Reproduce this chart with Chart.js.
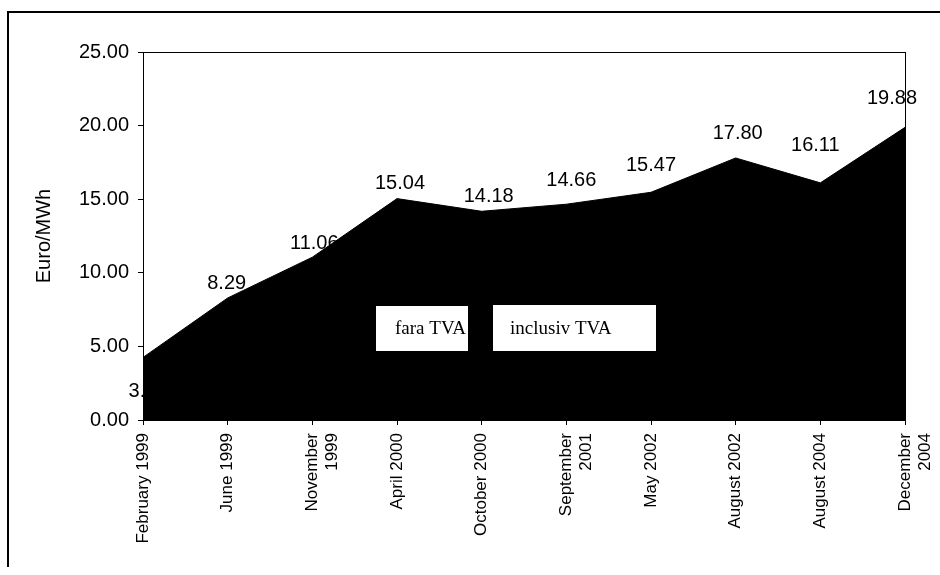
<!DOCTYPE html>
<html>
<head>
<meta charset="utf-8">
<script src="https://cdn.jsdelivr.net/npm/chart.js@4.4.0/dist/chart.umd.min.js"></script>
<style>
  body { margin: 0; background: #fff; }
  #wrap { width: 940px; height: 575px; }
</style>
</head>
<body>
<div id="wrap"><canvas id="PriceChart" width="940" height="575"></canvas></div>
<script>
// data
const months = [
  'February 1999', 'June 1999', ['November', '1999'], 'April 2000', 'October 2000',
  ['September', '2001'], 'May 2002', 'August 2002', 'August 2004', ['December', '2004']
];
const prices = [4.25, 8.29, 11.06, 15.04, 14.18, 14.66, 15.47, 17.80, 16.11, 19.88];
const priceLabels = ['3.58', '8.29', '11.06', '15.04', '14.18', '14.66', '15.47', '17.80', '16.11', '19.88'];
const seriesNames = ['fara TVA', 'inclusiv TVA'];
const yTicks = [0, 5, 10, 15, 20, 25];

// label nudges (px) so the numbers sit where the original has them
const nudgeX = [5, -1, 2, 3, 7, 5, 0, 2, -5, -13];
const nudgeY = [34, -14, -14, -15, -15, -24, -27, -24, -37, -29];

// values drawn under the area, so the area hides parts of them
const valueLabels = {
  id: 'valueLabels',
  beforeDatasetsDraw(chart) {
    const ctx = chart.ctx
    const meta = chart.getDatasetMeta(0)
    ctx.save()
    ctx.font = '20px "Liberation Sans", Arial, sans-serif'
    ctx.fillStyle = '#000'
    ctx.textAlign = 'center'
    ctx.textBaseline = 'middle'
    meta.data.forEach((pt, i) => {
      ctx.fillText(priceLabels[i], pt.x + nudgeX[i], pt.y + nudgeY[i])
    })
    ctx.restore()
  }
}

// frame, plot box and the two white legend boxes
const frame = {
  id: 'frame',
  afterDraw(chart) {
    const ctx = chart.ctx
    const a = chart.chartArea
    ctx.save()
    ctx.strokeStyle = '#000'
    ctx.lineWidth = 1
    ctx.strokeRect(a.left + 0.5, a.top + 0.5, a.right - a.left, a.bottom - a.top)

    ctx.lineWidth = 2
    ctx.beginPath()
    ctx.moveTo(8, 567)
    ctx.lineTo(8, 12)
    ctx.lineTo(940, 12)
    ctx.stroke()

    // legend
    const boxes = [
      { x: 376, y: 306, w: 92, h: 45, pad: 19 },
      { x: 493, y: 305, w: 163, h: 46, pad: 17 }
    ]
    ctx.font = '19px "Liberation Serif", "Times New Roman", serif'
    ctx.textBaseline = 'middle'
    ctx.textAlign = 'left'
    boxes.forEach((b, i) => {
      ctx.fillStyle = '#fff'
      ctx.fillRect(b.x, b.y, b.w, b.h)
      ctx.save()
      ctx.beginPath()
      ctx.rect(b.x, b.y, b.w, b.h)
      ctx.clip()
      ctx.fillStyle = '#000'
      ctx.fillText(seriesNames[i], b.x + b.pad, b.y + b.h / 2 + 1)
      ctx.restore()
    })
    ctx.restore()
  }
}

new Chart(document.getElementById('PriceChart'), {
  type: 'line',
  data: {
    labels: months,
    datasets: [{
      label: seriesNames[0],
      data: prices,
      fill: 'origin',
      backgroundColor: '#000',
      borderColor: '#000',
      borderWidth: 1,
      pointRadius: 0,
      tension: 0
    }]
  },
  options: {
    responsive: false,
    animation: false,
    layout: { padding: { top: 52, right: 35, left: 0, bottom: 0 } },
    plugins: {
      legend: { display: false },
      tooltip: { enabled: false }
    },
    scales: {
      x: {
        offset: false,
        afterFit: s => {
          s.height = 155
          s.paddingLeft = 0
          s.paddingRight = 0
        },
        grid: { drawOnChartArea: false, drawTicks: true, tickLength: 5, color: '#000' },
        border: { display: true, color: '#000' },
        ticks: {
          autoSkip: false,
          minRotation: 90,
          maxRotation: 90,
          padding: 8,
          color: '#000',
          font: { family: '"Liberation Sans", Arial, sans-serif', size: 17 }
        }
      },
      y: {
        min: 0,
        max: 25,
        afterFit: s => { s.width = 143 },
        afterBuildTicks: s => { s.ticks = yTicks.map(v => ({ value: v })) },
        grid: { drawOnChartArea: false, drawTicks: true, tickLength: 5, color: '#000' },
        border: { display: true, color: '#000' },
        ticks: {
          padding: 9,
          color: '#000',
          font: { family: '"Liberation Sans", Arial, sans-serif', size: 20 },
          callback: v => Number(v).toFixed(2)
        },
        title: {
          display: true,
          text: 'Euro/MWh',
          color: '#000',
          padding: { top: 32, bottom: 0 },
          font: { family: '"Liberation Sans", Arial, sans-serif', size: 20 }
        }
      }
    }
  },
  plugins: [valueLabels, frame]
});
</script>
</body>
</html>
